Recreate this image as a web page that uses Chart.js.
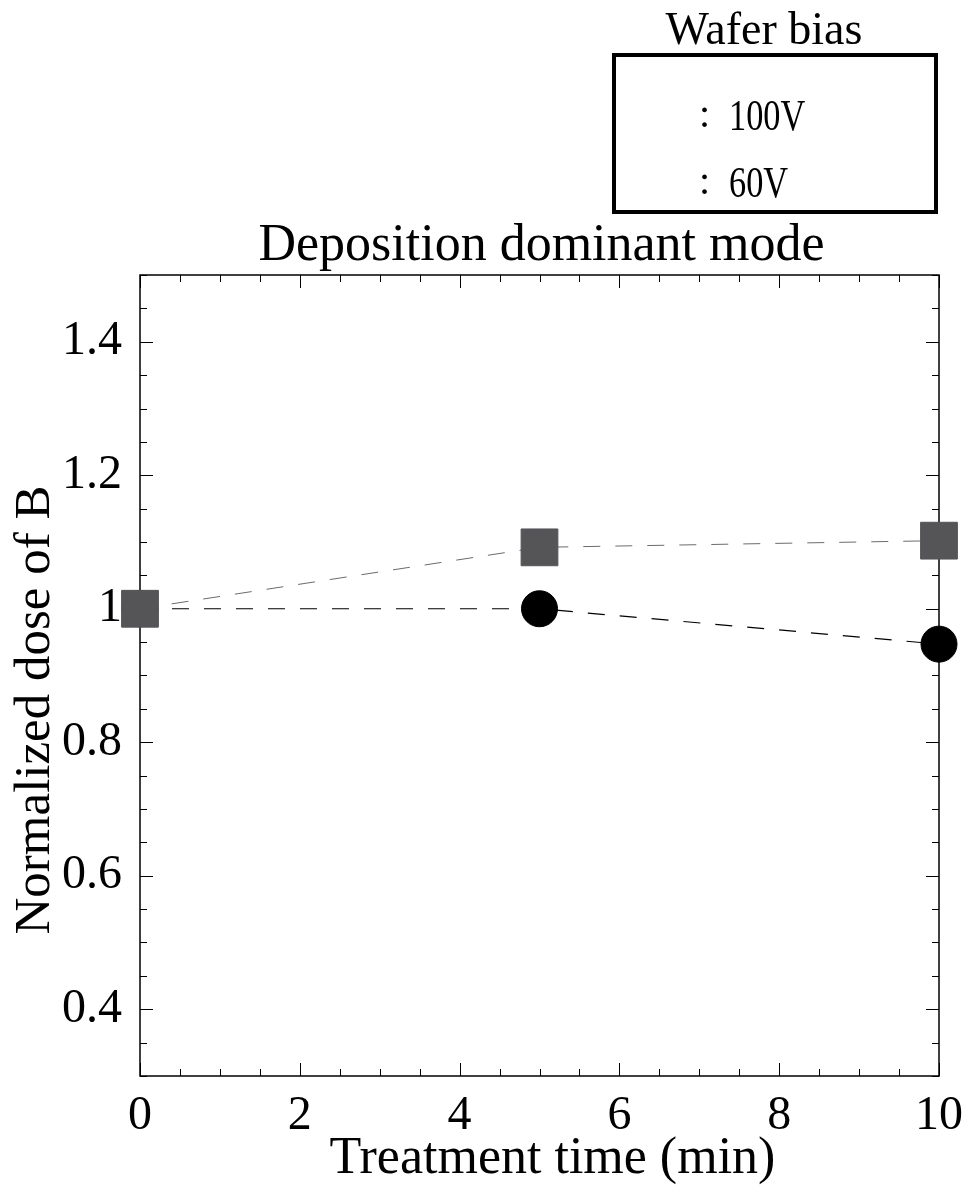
<!DOCTYPE html>
<html>
<head>
<meta charset="utf-8">
<script src="https://cdn.jsdelivr.net/npm/chart.js@4.4.0/dist/chart.umd.min.js"></script>
<style>
  html, body { margin: 0; padding: 0; background: #fff; }
  #wrap { width: 969px; height: 1189px; }
</style>
</head>
<body>
<div id="wrap"><canvas id="chart" width="969" height="1189"></canvas></div>
<script>
// data
const times = [0, 5, 10];
const bias100 = [1.0, 1.092, 1.102];
const bias60 = [1.0, 1.0, 0.947];
const seriesLabels = ['100V', '60V'];
const legendTitle = 'Wafer bias';
const chartTitle = 'Deposition dominant mode';
const xTitle = 'Treatment time (min)';
const yTitle = 'Normalized dose of B';
const xTickValues = [0, 2, 4, 6, 8, 10];
const xTickLabels = ['0', '2', '4', '6', '8', '10'];
const yTickValues = [0.4, 0.6, 0.8, 1.0, 1.2, 1.4];
const yTickLabels = ['0.4', '0.6', '0.8', '1', '1.2', '1.4'];

const FONT = '"Liberation Serif", "Times New Roman", serif';

// frame, inward ticks and the texts around the plot
const framePlugin = {
  id: 'frame',
  beforeDatasetsDraw(chart) {
    const ctx = chart.ctx;
    const a = chart.chartArea;
    const x = chart.scales.x;
    const y = chart.scales.y;
    ctx.save();
    ctx.strokeStyle = '#000';
    ctx.lineWidth = 1;
    ctx.beginPath();
    // x ticks every 0.5, long at labels
    const nx = Math.round((x.max - x.min) / 0.5);
    for (let i = 0; i <= nx; i++) {
      const v = x.min + i * 0.5;
      const px = Math.round(x.getPixelForValue(v)) + 0.5;
      const major = xTickValues.some(t => Math.abs(t - v) < 1e-6);
      const len = major ? 13 : 7;
      ctx.moveTo(px, a.bottom); ctx.lineTo(px, a.bottom - len);
      ctx.moveTo(px, a.top); ctx.lineTo(px, a.top + len);
    }
    // y ticks every 0.05
    const ny = Math.round((y.max - y.min) / 0.05);
    for (let i = 0; i <= ny; i++) {
      const v = y.min + i * 0.05;
      const py = Math.round(y.getPixelForValue(v)) + 0.5;
      const major = yTickValues.some(t => Math.abs(t - v) < 1e-6);
      const len = major ? 13 : 7;
      ctx.moveTo(a.left, py); ctx.lineTo(a.left + len, py);
      ctx.moveTo(a.right, py); ctx.lineTo(a.right - len, py);
    }
    ctx.stroke();
    ctx.lineWidth = 1.5;
    ctx.strokeRect(a.left, a.top, a.right - a.left, a.bottom - a.top);
    ctx.restore();
  },
  afterDraw(chart) {
    const ctx = chart.ctx;
    const a = chart.chartArea;
    ctx.save();
    ctx.fillStyle = '#000';
    ctx.textAlign = 'center';
    ctx.textBaseline = 'middle';

    ctx.font = '52px ' + FONT;
    ctx.fillText(chartTitle, (a.left + a.right) / 2 + 2, 246);
    ctx.fillText(xTitle, (a.left + a.right) / 2 + 13, 1159);

    ctx.save();
    ctx.translate(36, 710);
    ctx.rotate(-Math.PI / 2);
    ctx.font = '51px ' + FONT;
    ctx.fillText(yTitle, 0, 0);
    ctx.restore();

    // legend box (markers are blank in the original)
    ctx.font = '46px ' + FONT;
    ctx.fillText(legendTitle, 764, 32);
    ctx.lineWidth = 4;
    ctx.strokeStyle = '#000';
    ctx.strokeRect(614, 55, 322, 157);
    ctx.textAlign = 'left';
    seriesLabels.forEach((lab, i) => {
      const ty = 118 + i * 67;
      ctx.font = '40px ' + FONT;
      ctx.fillText(':', 699, ty - 2);
      ctx.save();
      ctx.translate(729, ty);
      ctx.scale(0.78, 1);
      ctx.font = '44px ' + FONT;
      ctx.fillText(lab, 0, 0);
      ctx.restore();
    });
    ctx.restore();
  }
};

const ctx = document.getElementById('chart');

new Chart(ctx, {
  type: 'line',
  data: {
    labels: times,
    datasets: [
      {
        label: seriesLabels[0],
        data: times.map((t, i) => ({ x: t, y: bias100[i] })),
        borderColor: '#6a6a6a',
        borderWidth: 1,
        borderDash: [17, 15],
        pointStyle: 'rect',
        pointRadius: 26,
        pointHoverRadius: 26,
        pointBackgroundColor: '#555558',
        pointBorderColor: '#555558',
        pointBorderWidth: 1,
        clip: false
      },
      {
        label: seriesLabels[1],
        data: times.map((t, i) => ({ x: t, y: bias60[i] })),
        borderColor: '#000',
        borderWidth: 1.2,
        borderDash: [17, 15],
        pointStyle: 'circle',
        pointRadius: 18,
        pointHoverRadius: 18,
        pointBackgroundColor: '#000',
        pointBorderColor: '#000',
        pointBorderWidth: 1,
        clip: false
      }
    ]
  },
  options: {
    responsive: false,
    animation: false,
    layout: {
      padding: { top: 275, right: 30, left: 0, bottom: 0 }
    },
    plugins: {
      legend: { display: false },
      title: { display: false },
      tooltip: { enabled: false }
    },
    scales: {
      x: {
        type: 'linear',
        min: 0,
        max: 10,
        grid: { display: false, drawTicks: false },
        border: { display: false },
        afterBuildTicks: scale => {
          scale.ticks = xTickValues.map(v => ({ value: v }));
        },
        afterFit: scale => {
          scale.height = 113;
          scale.paddingLeft = 0;
          scale.paddingRight = 0;
        },
        ticks: {
          color: '#000',
          padding: 12,
          maxRotation: 0,
          font: { family: FONT, size: 48 },
          callback: (v) => xTickLabels[xTickValues.indexOf(v)]
        }
      },
      y: {
        type: 'linear',
        min: 0.3,
        max: 1.5,
        grid: { display: false, drawTicks: false },
        border: { display: false },
        afterBuildTicks: scale => {
          scale.ticks = yTickValues.map(v => ({ value: v }));
        },
        afterFit: scale => {
          scale.width = 140;
          scale.paddingTop = 0;
          scale.paddingBottom = 0;
        },
        ticks: {
          color: '#000',
          padding: 18,
          font: { family: FONT, size: 48 },
          callback: (v) => {
            const i = yTickValues.findIndex(t => Math.abs(t - v) < 1e-6);
            return i >= 0 ? yTickLabels[i] : '';
          }
        }
      }
    }
  },
  plugins: [framePlugin]
});
</script>
</body>
</html>
